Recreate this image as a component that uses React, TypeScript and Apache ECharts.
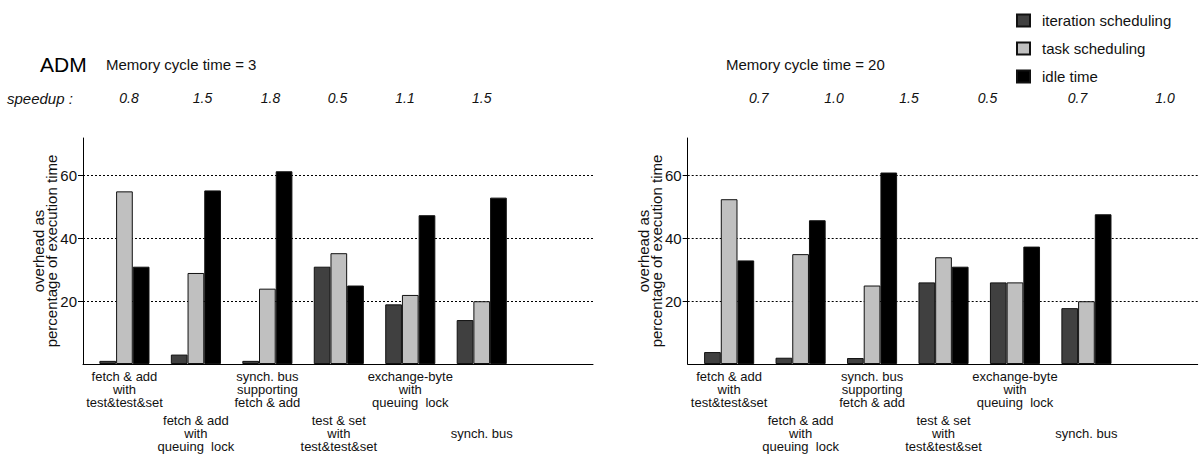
import React, { useEffect, useRef } from "react";
import * as echarts from "echarts";

// ---- data ----
const categories = [
  "fetch & add\nwith\ntest&test&set",
  "fetch & add\nwith\nqueuing  lock",
  "synch. bus\nsupporting\nfetch & add",
  "test & set\nwith\ntest&test&set",
  "exchange-byte\nwith\nqueuing  lock",
  "\nsynch. bus",
];
const seriesNames = ["iteration scheduling", "task scheduling", "idle time"];

const iterationCycle3 = [1, 3, 1, 31, 19, 14];
const taskCycle3 = [55, 29, 24, 35.3, 22, 20];
const idleCycle3 = [31, 55.3, 61.4, 25, 47.4, 53];

const iterationCycle20 = [3.8, 2, 1.9, 26, 26, 17.8];
const taskCycle20 = [52.5, 35, 25, 34, 26, 20];
const idleCycle20 = [33, 45.8, 61, 31, 37.4, 47.7];

const speedupCycle3 = ["0.8", "1.5", "1.8", "0.5", "1.1", "1.5"];
const speedupCycle20 = ["0.7", "1.0", "1.5", "0.5", "0.7", "1.0"];

const yTickValues = [20, 40, 60];

// ---- layout & style ----
const FONT = "'Liberation Sans', Arial, Helvetica, sans-serif";
const COLORS = ["#404040", "#c0c0c0", "#000000"];
const X_MIN = -0.58;
const X_MAX = 6.557;
const Y_MAX = 72;

const panels = [
  {
    left: 83,
    subtitle: "Memory cycle time = 3",
    subtitleX: 106,
    values: [iterationCycle3, taskCycle3, idleCycle3],
    speedup: speedupCycle3,
    speedupX: [129, 202.5, 270.5, 337.5, 405, 481.7],
  },
  {
    left: 687.7,
    subtitle: "Memory cycle time = 20",
    subtitleX: 726,
    values: [iterationCycle20, taskCycle20, idleCycle20],
    speedup: speedupCycle20,
    speedupX: [758.7, 834, 909, 987.5, 1077.5, 1165],
  },
];

const labelText = {
  fontFamily: FONT,
  fontSize: 13,
  lineHeight: 12.8,
  color: "#111",
};

function buildOption(): echarts.EChartsOption {
  const grid: any[] = [];
  const xAxis: any[] = [];
  const yAxis: any[] = [];
  const series: any[] = [];
  const graphic: any[] = [];

  panels.forEach((p, pi) => {
    grid.push({ left: p.left, top: 138, width: 510, height: 226 });

    const baseX = {
      type: "value",
      gridIndex: pi,
      position: "bottom",
      offset: 0,
      min: X_MIN,
      max: X_MAX,
      axisTick: { show: false },
      splitLine: { show: false },
    };
    // upper row of category labels + baseline
    xAxis.push({
      ...baseX,
      axisLine: { show: true, onZero: false, lineStyle: { color: "#000", width: 1 } },
      axisLabel: {
        ...labelText,
        margin: 6,
        customValues: [0, 2, 4],
        formatter: (v: number) => categories[Math.round(v)] ?? "",
      },
    });
    // lower row of category labels
    xAxis.push({
      ...baseX,
      axisLine: { show: false, onZero: false },
      axisLabel: {
        ...labelText,
        margin: 50,
        customValues: [1, 3, 5],
        formatter: (v: number) => categories[Math.round(v)] ?? "",
      },
    });

    yAxis.push({
      type: "value",
      gridIndex: pi,
      position: "left",
      min: 0,
      max: Y_MAX,
      axisLine: { show: true, onZero: false, lineStyle: { color: "#000", width: 1 } },
      axisTick: {
        show: true,
        length: 5,
        customValues: yTickValues,
        lineStyle: { color: "#000" },
      },
      axisLabel: {
        customValues: yTickValues,
        fontFamily: FONT,
        fontSize: 15,
        color: "#111",
        margin: 6,
      },
      splitLine: { show: false },
      name: "overhead as\npercentage of execution time",
      nameLocation: "middle",
      nameRotate: 90,
      nameGap: 25,
      nameMoveOverlap: false,
      nameTextStyle: { fontFamily: FONT, fontSize: 15, lineHeight: 13, color: "#111" },
    });

    seriesNames.forEach((name, si) => {
      const s: any = {
        type: "bar",
        name,
        xAxisIndex: pi * 2,
        yAxisIndex: pi,
        barWidth: 16.7,
        barGap: "0%",
        itemStyle: { color: COLORS[si], borderColor: "#111", borderWidth: 1 },
        emphasis: { disabled: true },
        data: p.values[si].map((v, i) => [i, v]),
      };
      if (si === 0) {
        s.markLine = {
          silent: true,
          z: 1,
          symbol: "none",
          label: { show: false },
          lineStyle: { type: [2, 2], color: "#000", width: 1 },
          data: yTickValues.map((v) => ({ yAxis: v })),
        };
      }
      series.push(s);
    });

    graphic.push({
      type: "text",
      x: p.subtitleX,
      y: 64,
      style: {
        text: p.subtitle,
        font: `15px ${FONT}`,
        fill: "#111",
        verticalAlign: "middle",
      },
    });
    p.speedup.forEach((t, i) => {
      graphic.push({
        type: "text",
        x: p.speedupX[i],
        y: 98,
        style: {
          text: t,
          font: `italic 14px ${FONT}`,
          fill: "#111",
          align: "center",
          verticalAlign: "middle",
        },
      });
    });
  });

  graphic.push({
    type: "text",
    x: 40,
    y: 64,
    style: { text: "ADM", font: `21px ${FONT}`, fill: "#000", verticalAlign: "middle" },
  });
  graphic.push({
    type: "text",
    x: 7,
    y: 98,
    style: {
      text: "speedup :",
      font: `italic 15px ${FONT}`,
      fill: "#111",
      verticalAlign: "middle",
    },
  });

  return {
    animation: false,
    backgroundColor: "#fff",
    grid,
    xAxis,
    yAxis,
    series,
    graphic,
    legend: {
      orient: "vertical",
      left: 1016,
      top: 13,
      padding: 0,
      itemWidth: 13,
      itemHeight: 12,
      itemGap: 13,
      icon: "rect",
      selectedMode: false,
      data: seriesNames,
      textStyle: {
        fontFamily: FONT,
        fontSize: 15,
        lineHeight: 12,
        color: "#111",
        padding: [0, 0, 0, 7],
      },
    },
  };
}

export default function App() {
  const ref = useRef<HTMLDivElement>(null);

  useEffect(() => {
    document.body.style.margin = "0";
    const chart = echarts.init(ref.current!, undefined, { renderer: "svg" });
    chart.setOption(buildOption());
    return () => chart.dispose();
  }, []);

  return <div ref={ref} style={{ width: 1199, height: 457 }} />;
}
